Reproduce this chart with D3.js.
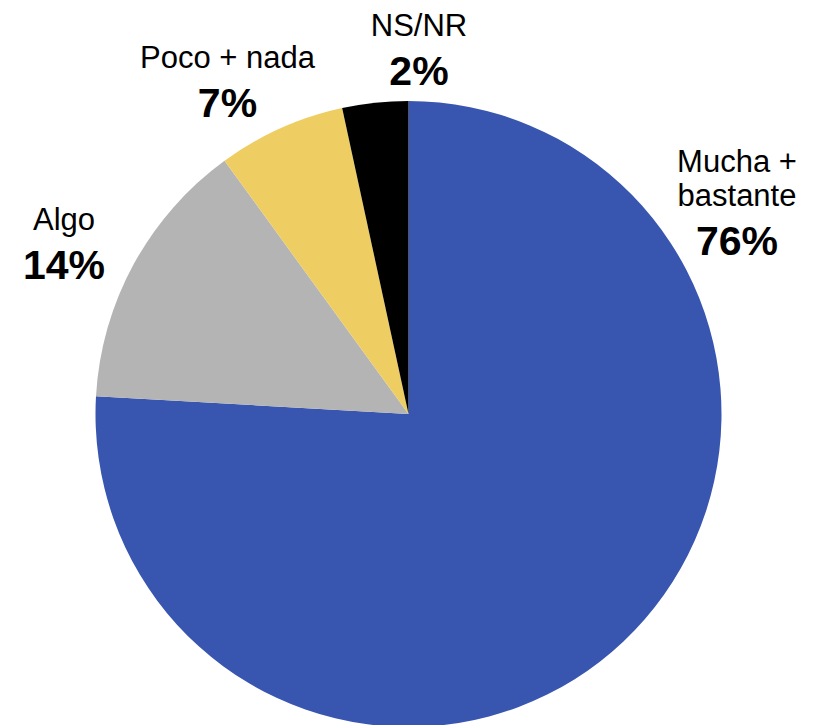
<!DOCTYPE html>
<html>
<head>
<meta charset="utf-8">
<script src="https://cdn.jsdelivr.net/npm/d3@7"></script>
<style>
html,body{margin:0;padding:0;background:#fff;}
svg{display:block;}
text{font-family:"Liberation Sans",Arial,sans-serif;fill:#000;}
</style>
</head>
<body>
<svg id="chart" width="817" height="725"></svg>
<script>
const categories = ["Mucha + bastante", "Algo", "Poco + nada", "NS/NR"];
const values = [75.9, 14.1, 6.6, 3.4];
const percentLabels = ["76%", "14%", "7%", "2%"];
const nameLines = [["Mucha +", "bastante"], ["Algo"], ["Poco + nada"], ["NS/NR"]];
const colors = ["#3856B0", "#B4B4B4", "#EECE62", "#000000"];

const W = 817, H = 725;
const cx = 408.5, cy = 414, R = 313;

const svg = d3.select("#chart");
const g = svg.append("g").attr("transform", `translate(${cx},${cy})`);

const pie = d3.pie().sort(null).value(d => d.v);
const arc = d3.arc().innerRadius(0).outerRadius(R);
const data = categories.map((c, i) => ({c, v: values[i], i}));

g.selectAll("path").data(pie(data)).join("path")
  .attr("d", arc)
  .attr("fill", d => colors[d.data.i]);

// label anchor positions (center x, first-line baseline y) in page coords
const labelPos = [
  {x: 737, y: 172},
  {x: 64, y: 230},
  {x: 227.5, y: 68},
  {x: 419, y: 36}
];
const lineGap = 34, pctGap = 49;

const labels = svg.append("g");
data.forEach((d, i) => {
  const p = labelPos[i];
  const t = labels.append("text").attr("text-anchor", "middle");
  nameLines[i].forEach((ln, k) => {
    t.append("tspan").attr("x", p.x).attr("y", p.y + k * lineGap)
      .attr("font-size", 31).text(ln);
  });
  const lastY = p.y + (nameLines[i].length - 1) * lineGap;
  t.append("tspan").attr("x", p.x).attr("y", lastY + pctGap)
    .attr("font-size", 41).attr("font-weight", "bold").text(percentLabels[i]);
});
</script>
</body>
</html>
